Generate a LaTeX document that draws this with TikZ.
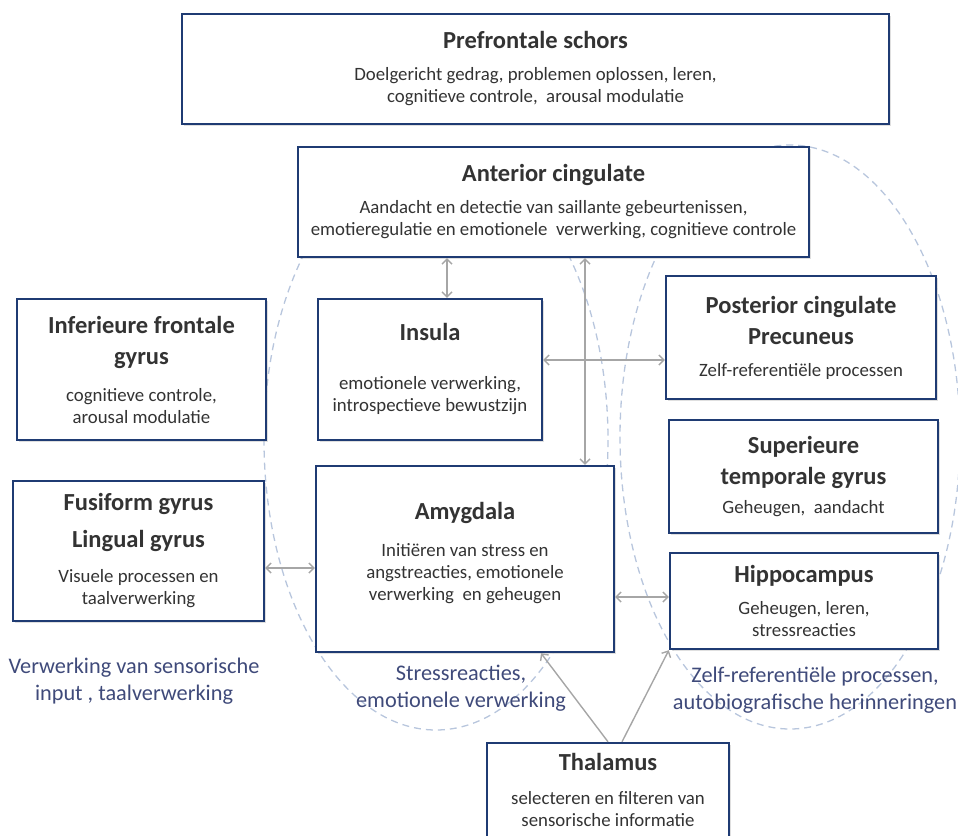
\documentclass[tikz,border=0pt]{standalone}
\usepackage{fontspec}
\setmainfont{Carlito}
\usetikzlibrary{arrows.meta,shadows}
\definecolor{boxblue}{HTML}{1F3B73}
\definecolor{linkgray}{HTML}{A6A6A6}
\definecolor{ovalblue}{HTML}{B8C6DD}
\definecolor{notetext}{HTML}{3F4A7A}
\newcommand{\areatitle}[1]{{\fontsize{24.5}{28}\selectfont\bfseries #1}}
\tikzset{
  area/.style={draw=boxblue, line width=2.4pt, fill=white, align=center, inner sep=0pt,
    font=\fontsize{18.8}{22}\selectfont, text=black!80,
    drop shadow={shadow xshift=1.5pt, shadow yshift=-1.5pt, opacity=0.25}},
  note/.style={align=center, text=notetext, font=\fontsize{22.3}{27}\selectfont},
  link/.style={draw=linkgray, line width=1.4pt},
  oval/.style={draw=ovalblue, line width=1.3pt, dash pattern=on 7pt off 5pt},
}
\begin{document}
\begin{tikzpicture}[x=1pt,y=-1pt,>={Straight Barb[length=5pt,width=10pt]}]
  \useasboundingbox (0,0) rectangle (958,835);
  \clip (0,0) rectangle (958,835);
  % The dashed ovals
  \draw[oval] (436,440) ellipse [x radius=172,y radius=290];
  \draw[oval] (790,437) ellipse [x radius=170,y radius=292];
  % The regions
  \node[area, minimum width=707, minimum height=110] (pfc) at (535.5,69)
    {\areatitle{Prefrontale schors}\\[10pt] Doelgericht gedrag, problemen oplossen, leren,\\ cognitieve controle, \ arousal modulatie};
  \node[area, minimum width=511, minimum height=110] (ac) at (553.5,202)
    {\areatitle{Anterior cingulate}\\[10pt] Aandacht en detectie van saillante gebeurtenissen,\\ emotieregulatie en emotionele \ verwerking, cognitieve controle};
  \node[area, minimum width=249, minimum height=141] (ifg) at (141.5,369.5)
    {\areatitle{Inferieure frontale}\\[9pt]\areatitle{gyrus}\\[15pt] cognitieve controle,\\ arousal modulatie};
  \node[area, minimum width=224, minimum height=141] (ins) at (430,369.5)
    {\areatitle{Insula}\\[27pt] emotionele verwerking,\\ introspectieve bewustzijn};
  \node[area, minimum width=270, minimum height=123] (pcc) at (801,337.5)
    {\areatitle{Posterior cingulate}\\[9pt]\areatitle{Precuneus}\\[10pt] Zelf-referenti\"ele processen};
  \node[area, minimum width=269, minimum height=113] (stg) at (803.5,476.5)
    {\areatitle{Superieure}\\[9pt]\areatitle{temporale gyrus}\\[7pt] Geheugen, \ aandacht};
  \node[area, minimum width=251, minimum height=140] (fus) at (138.5,551)
    {\areatitle{Fusiform gyrus}\\[15pt]\areatitle{Lingual gyrus}\\[13pt] Visuele processen en\\ taalverwerking};
  \node[area, minimum width=298, minimum height=186] (amy) at (465,559)
    {\areatitle{Amygdala}\\[15pt] Initi\"eren van stress en\\ angstreacties, emotionele\\ verwerking \ en geheugen\\[-6pt]};
  \node[area, minimum width=268, minimum height=96] (hip) at (804,601)
    {\areatitle{Hippocampus}\\[10pt] Geheugen, leren,\\ stressreacties};
  \node[area, minimum width=242, minimum height=94] (thal) at (608,790)
    {\areatitle{Thalamus}\\[12pt] selecteren en filteren van\\ sensorische informatie};
  % The notes under the regions
  \node[note] (sens) at (134,681) {Verwerking van sensorische\\ input , taalverwerking};
  \node[note] (stress) at (461,688) {Stressreacties,\\ emotionele verwerking};
  \node[note] (self) at (815,690) {Zelf-referenti\"ele processen,\\ autobiografische herinneringen};
  % The links
  \draw[link,<->] ([xshift=17pt]ins.north) -- ([xshift=17pt]ins.north |- ac.south);
  \draw[link,<->] ([xshift=120pt]amy.north) -- ([xshift=120pt]amy.north |- ac.south);
  \draw[link,<->] ([yshift=9.5pt]ins.east) -- ([yshift=9.5pt]ins.east -| pcc.west);
  \draw[link,<->] ([yshift=-17pt]fus.east) -- ([yshift=-17pt]fus.east -| amy.west);
  \draw[link,<->] ([yshift=4pt]hip.west) -- ([yshift=4pt]hip.west -| amy.east);
  \draw[link,->] (thal.north) -- ([xshift=76pt]amy.south);
  \draw[link,->] ([xshift=14pt]thal.north) -- (hip.south west);
\end{tikzpicture}
\end{document}
